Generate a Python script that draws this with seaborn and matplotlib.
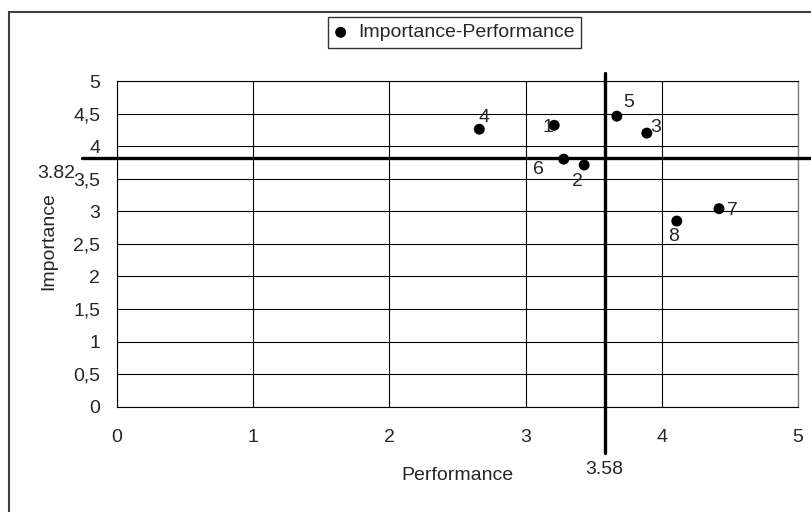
import matplotlib
matplotlib.use("Agg")
import matplotlib.pyplot as plt
import seaborn as sns
import pandas as pd
from matplotlib.patches import Rectangle

# Attribute numbers and their mean scores
item_ids = ["1", "2", "3", "4", "5", "6", "7", "8"]
performance = [3.21, 3.43, 3.89, 2.66, 3.67, 3.28, 4.42, 4.11]
importance = [4.32, 3.71, 4.20, 4.26, 4.46, 3.80, 3.04, 2.85]

# Grand means that split the plane into quadrants
mean_performance = 3.58
mean_importance = 3.82

series_name = "Importance-Performance"
x_ticks = [0, 1, 2, 3, 4, 5]
x_tick_labels = ["0", "1", "2", "3", "4", "5"]
y_ticks = [0, 0.5, 1, 1.5, 2, 2.5, 3, 3.5, 4, 4.5, 5]
y_tick_labels = ["0", "0,5", "1", "1,5", "2", "2,5", "3", "3,5", "4", "4,5", "5"]

df = pd.DataFrame({"id": item_ids, "Performance": performance, "Importance": importance})

sns.set_style("white")
plt.rcParams["font.family"] = ["Liberation Sans", "DejaVu Sans"]
FS = 14

W, H = 811, 512
fig = plt.figure(figsize=(W / 100, H / 100), dpi=100)

# plot area in pixel terms
left, right, top, bottom = 117, 798, 81, 406.7
ax = fig.add_axes([left / W, (H - bottom) / H, (right - left) / W, (bottom - top) / H])

# outer chart frame
fig.add_artist(Rectangle((8.5 / W, -0.5), 1.2, 1.5 - 12 / H, transform=fig.transFigure,
                         fill=False, edgecolor="#404040", linewidth=1.5, clip_on=False))

sns.scatterplot(data=df, x="Performance", y="Importance", ax=ax, color="black",
                s=62, edgecolor="none", label=series_name, zorder=5)

ax.set_xlim(0, 5)
ax.set_ylim(0, 5)
ax.set_xticks(x_ticks)
ax.set_xticklabels(x_tick_labels, fontsize=FS)
ax.set_yticks(y_ticks)
ax.set_yticklabels(y_tick_labels, fontsize=FS)
ax.tick_params(axis="x", direction="out", length=5, width=0.8, color="black", pad=11)
ax.tick_params(axis="y", direction="out", length=4, width=0.8, color="black", pad=8)

ax.grid(True, color="black", linewidth=0.8)
ax.set_axisbelow(True)
for side in ("left", "bottom", "top"):
    ax.spines[side].set_color("black")
    ax.spines[side].set_linewidth(0.8)
ax.spines["right"].set_color("#808080")
ax.spines["right"].set_linewidth(1.0)

# point labels, offsets in pixels
label_offsets = {"1": (-6, 0), "2": (-7, -14), "3": (9, 8), "4": (5, 14),
                 "5": (12, 16), "6": (-25, -8), "7": (13, 0), "8": (-3, -13)}
for pid, px, py in zip(item_ids, performance, importance):
    dx, dy = label_offsets[pid]
    ax.annotate(pid, (px, py), xytext=(dx, dy), textcoords="offset pixels",
                ha="center", va="center_baseline", fontsize=FS, zorder=6)

# quadrant dividers, extending past the plot area
ax.plot([mean_performance, mean_performance], [-0.71, 5.12], color="black",
        linewidth=2.4, clip_on=False, zorder=4)
ax.plot([-0.26, 5.3], [mean_importance, mean_importance], color="black",
        linewidth=2.4, clip_on=False, zorder=4)
ax.annotate(f"{mean_importance:.2f}", xy=(0, mean_importance),
            xycoords=("axes fraction", "data"), xytext=(-42, -14),
            textcoords="offset pixels", ha="right", va="center_baseline", fontsize=FS)
ax.annotate(f"{mean_performance:.2f}", xy=(mean_performance, 0),
            xycoords=("data", "axes fraction"), xytext=(0, -61),
            textcoords="offset pixels", ha="center", va="center_baseline", fontsize=FS)

ax.set_xlabel("Performance", fontsize=FS)
ax.set_ylabel("Importance", fontsize=FS)
ax.xaxis.set_label_coords(0.5, -(467 - bottom) / (bottom - top))
ax.yaxis.set_label_coords((57 - left) / (right - left), (bottom - 241.5) / (bottom - top))

leg = ax.legend(loc="upper left", bbox_to_anchor=(328 / W, 1 - 17 / H),
                bbox_transform=fig.transFigure, frameon=True, fancybox=False,
                edgecolor="#333333", fontsize=FS, borderpad=0.35, borderaxespad=0,
                handlelength=0.6, handletextpad=0.6, markerscale=1.0)
leg.get_frame().set_linewidth(1.0)
leg.get_frame().set_alpha(1)

fig.savefig("out.png", dpi=100)
